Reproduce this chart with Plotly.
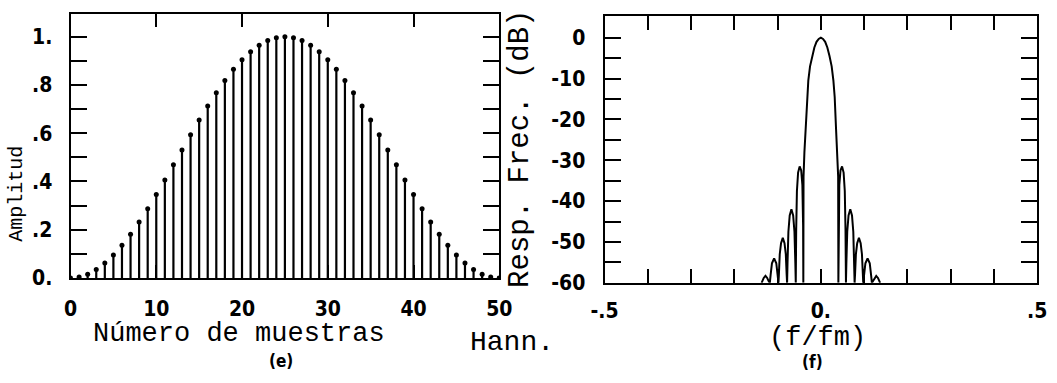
import plotly.graph_objects as go

W, H = 1057, 383

# ---------------- data ----------------
sample_index = list(range(51))
hann_amplitude = [
    0.000, 0.004, 0.016, 0.035, 0.062, 0.095, 0.136, 0.181, 0.232, 0.287,
    0.346, 0.406, 0.469, 0.531, 0.594, 0.655, 0.713, 0.768, 0.819, 0.865,
    0.905, 0.938, 0.965, 0.984, 0.996, 1.000, 0.996, 0.984, 0.965, 0.938,
    0.905, 0.865, 0.819, 0.768, 0.713, 0.655, 0.594, 0.531, 0.469, 0.406,
    0.346, 0.287, 0.232, 0.181, 0.136, 0.095, 0.062, 0.035, 0.016, 0.004,
    0.000,
]

freq_norm = [
    -0.137, -0.135, -0.132, -0.128, -0.124, -0.121, -0.118,
    -0.116, -0.113, -0.108, -0.103, -0.100, -0.098,
    -0.097, -0.095, -0.092, -0.088, -0.084, -0.081, -0.079, -0.078,
    -0.077, -0.075, -0.072, -0.068, -0.064, -0.061, -0.059, -0.058,
    -0.057, -0.0553, -0.0526, -0.049, -0.0454, -0.0427, -0.041, -0.0405,
    -0.040, -0.038, -0.035, -0.032, -0.029, -0.025, -0.020, -0.015, -0.010, -0.005,
    0.000,
    0.005, 0.010, 0.015, 0.020, 0.025, 0.029, 0.032, 0.035, 0.038, 0.040,
    0.0405, 0.041, 0.0427, 0.0454, 0.049, 0.0526, 0.0553, 0.057,
    0.058, 0.059, 0.061, 0.064, 0.068, 0.072, 0.075, 0.077,
    0.078, 0.079, 0.081, 0.084, 0.088, 0.092, 0.095, 0.097,
    0.098, 0.100, 0.103, 0.108, 0.113, 0.116,
    0.118, 0.121, 0.124, 0.128, 0.132, 0.135, 0.137,
]
resp_db = [
    -60, -59.5, -58.8, -58.3, -58.8, -59.5, -60,
    -58, -55.2, -54, -55.2, -58, -60,
    -58, -53, -50.3, -49, -50.3, -53, -58, -60,
    -55, -47.5, -43.5, -42, -43.5, -47.5, -55, -60,
    -47, -37.5, -33, -31.5, -32.5, -36, -46, -60,
    -34, -28, -22, -14.5, -10.5, -7, -4.5, -2.4, -1.0, -0.3,
    0,
    -0.3, -1.0, -2.4, -4.5, -7, -10.5, -14.5, -22, -28, -34,
    -60, -46, -36, -32.5, -31.5, -33, -37.5, -47,
    -60, -55, -47.5, -43.5, -42, -43.5, -47.5, -55,
    -60, -58, -53, -50.3, -49, -50.3, -53, -58,
    -60, -58, -55.2, -54, -55.2, -58,
    -60, -59.5, -58.8, -58.3, -58.8, -59.5, -60,
]

left_x_ticks = [0, 10, 20, 30, 40, 50]
left_x_labels = ["0", "10", "20", "30", "40", "50"]
left_y_ticks = [0, 0.1, 0.2, 0.3, 0.4, 0.5, 0.6, 0.7, 0.8, 0.9, 1.0]
left_y_labels = ["0.", "", ".2", "", ".4", "", ".6", "", ".8", "", "1."]
right_x_ticks = [-0.5, -0.4, -0.3, -0.2, -0.1, 0.0, 0.1, 0.2, 0.3, 0.4, 0.5]
right_x_labels = ["-.5", "", "", "", "", "0.", "", "", "", "", ".5"]
right_y_ticks = [0, -5, -10, -15, -20, -25, -30, -35, -40, -45, -50, -55, -60]
right_y_labels = ["0", "", "-10", "", "-20", "", "-30", "", "-40", "", "-50", "", "-60"]

# ---------------- helpers ----------------
def px(x):
    return x / W

def py(y):
    return 1 - y / H

# stems built from data
stem_x, stem_y = [], []
for n, v in zip(sample_index, hann_amplitude):
    stem_x += [n, n, None]
    stem_y += [0, v, None]

fig = go.Figure()
fig.add_trace(go.Scatter(x=stem_x, y=stem_y, mode="lines",
                         line=dict(color="black", width=2.2),
                         xaxis="x", yaxis="y", showlegend=False, hoverinfo="skip"))
fig.add_trace(go.Scatter(x=sample_index, y=hann_amplitude, mode="markers",
                         marker=dict(color="black", size=5),
                         xaxis="x", yaxis="y", showlegend=False))
fig.add_trace(go.Scatter(x=freq_norm, y=resp_db, mode="lines",
                         line=dict(color="black", width=2),
                         xaxis="x2", yaxis="y2", showlegend=False))

tickfont = dict(family="Liberation Sans Narrow, DejaVu Sans Condensed, Arial Narrow, sans-serif",
                size=21, color="black", weight="bold")
mono = "Liberation Mono, Courier New, monospace"

common = dict(showline=True, linecolor="black", linewidth=2, mirror="ticks",
              ticks="inside", tickcolor="black", tickwidth=2,
              showgrid=False, zeroline=False, tickfont=tickfont, tickmode="array")

fig.update_layout(
    width=W, height=H,
    margin=dict(l=0, r=0, t=0, b=0),
    paper_bgcolor="white", plot_bgcolor="white",
    xaxis=dict(domain=[px(58), px(498)], range=[0, 50], anchor="y",
               tickvals=left_x_ticks, ticktext=left_x_labels,
               ticklen=13, ticklabelstandoff=11, **common),
    yaxis=dict(domain=[py(287), py(14)], range=[0, 1.096], anchor="x",
               tickvals=left_y_ticks, ticktext=left_y_labels,
               ticklen=16, ticklabelstandoff=12, **common),
    xaxis2=dict(domain=[px(606), px(1050)], range=[-0.5, 0.5], anchor="y2",
                tickvals=right_x_ticks, ticktext=right_x_labels,
                ticklen=14, ticklabelstandoff=8, **common),
    yaxis2=dict(domain=[py(292), py(17)], range=[-60, 5.2], anchor="x2",
                tickvals=right_y_ticks, ticktext=right_y_labels,
                ticklen=16, ticklabelstandoff=13, **common),
)

def ann(text, x, y, size, family=mono, angle=0, bold=False):
    fig.add_annotation(text=text, x=px(x), y=py(y), xref="paper", yref="paper",
                       showarrow=False, textangle=angle,
                       xanchor="center", yanchor="middle",
                       font=dict(family=family, size=size, color="black",
                                 weight="bold" if bold else "normal"))

ann("Número de muestras", 231, 345, 27)
ann("Hann.", 511, 354, 28)
ann("(f/fm)", 825, 349, 27)
ann("Amplitud", 3, 200, 20, angle=-90)
ann("Resp. Frec. (dB)", 519, 154, 29, angle=-90)
ann("(e)", 274, 373, 17, family="DejaVu Sans Condensed, sans-serif", bold=True)
ann("(f)", 819, 374, 17, family="DejaVu Sans Condensed, sans-serif", bold=True)

fig.write_html("out.html")
